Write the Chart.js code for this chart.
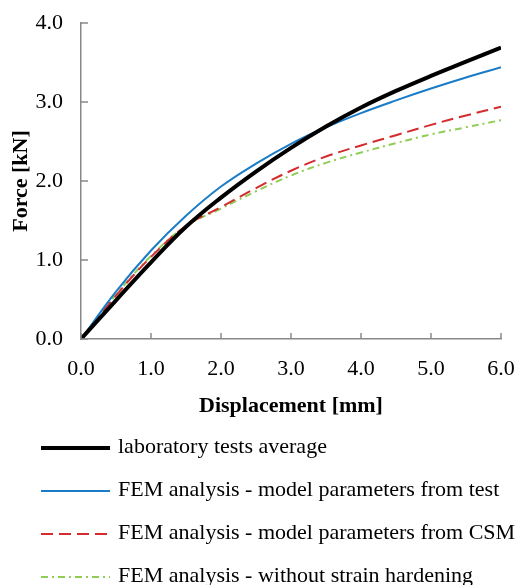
<!DOCTYPE html>
<html>
<head>
<meta charset="utf-8">
<script src="https://cdn.jsdelivr.net/npm/chart.js@4"></script>
<style>
  html, body { margin: 0; padding: 0; background: #fff; }
  #wrap { width: 530px; height: 585px; }
</style>
</head>
<body>
<div id="wrap"><canvas id="ForceChart" width="530" height="585"></canvas></div>
<script>
// displacement [mm] shared by all series
const displacement = [0, 0.5, 1.0, 1.5, 2.0, 2.5, 3.0, 3.5, 4.0, 4.5, 5.0, 5.5, 6.0];

const labAverage  = [0, 0.49, 0.97, 1.42, 1.79, 2.12, 2.42, 2.69, 2.93, 3.14, 3.33, 3.51, 3.69];
const femTest     = [0, 0.60, 1.12, 1.56, 1.93, 2.22, 2.47, 2.68, 2.86, 3.02, 3.17, 3.31, 3.44];
const femCSM      = [0, 0.55, 1.04, 1.43, 1.67, 1.91, 2.13, 2.31, 2.45, 2.58, 2.71, 2.83, 2.94];
const femNoHarden = [0, 0.56, 1.05, 1.43, 1.65, 1.87, 2.07, 2.23, 2.36, 2.48, 2.59, 2.68, 2.77];

const seriesNames = [
  'laboratory tests average',
  'FEM analysis - model parameters from test',
  'FEM analysis - model parameters from CSM',
  'FEM analysis - without strain hardening'
];

const xTicks = [0, 1, 2, 3, 4, 5, 6];
const yTicks = [0, 1, 2, 3, 4];

const FONT = "'Liberation Serif', 'Times New Roman', serif";
const AXIS_GREY = '#898989';

function toPoints(ys) {
  return displacement.map((x, i) => ({ x: x, y: ys[i] }));
}

// ticks on the inner side of the axes, as in the original figure
const innerTicks = {
  id: 'innerTicks',
  afterDatasetsDraw(chart) {
    const c = chart.ctx;
    const xs = chart.scales.x, ys = chart.scales.y;
    const a = chart.chartArea;
    c.save();
    c.strokeStyle = AXIS_GREY;
    c.lineWidth = 1.5;
    c.beginPath();
    xTicks.forEach(v => {
      const px = xs.getPixelForValue(v);
      c.moveTo(px, a.bottom);
      c.lineTo(px, a.bottom - 6);
    });
    yTicks.forEach(v => {
      const py = ys.getPixelForValue(v);
      c.moveTo(a.left, py);
      c.lineTo(a.left + 7, py);
    });
    c.stroke();
    c.restore();
  }
};

// stacked legend, left aligned below the plot
const stackedLegend = {
  id: 'stackedLegend',
  afterDraw(chart) {
    const c = chart.ctx;
    const top = 448, gap = 43;
    c.save();
    c.font = '22px ' + FONT;
    c.textBaseline = 'middle';
    c.fillStyle = '#000';
    chart.data.datasets.forEach((ds, i) => {
      const y = top + i * gap;
      c.beginPath();
      c.strokeStyle = ds.borderColor;
      c.lineWidth = ds.borderWidth;
      c.setLineDash(ds.borderDash || []);
      c.moveTo(41, y);
      c.lineTo(110, y);
      c.stroke();
      c.setLineDash([]);
      c.fillText(ds.label, 118, y - 1);
    });
    c.restore();
  }
};

window.onload = function() {
  const ctx = document.getElementById('ForceChart').getContext('2d');

  const common = { pointRadius: 0, fill: false, tension: 0.4 };

  const data = {
    datasets: [
      Object.assign({ label: seriesNames[0], data: toPoints(labAverage),
        borderColor: '#000000', borderWidth: 4 }, common),
      Object.assign({ label: seriesNames[1], data: toPoints(femTest),
        borderColor: '#1a7cc6', borderWidth: 2 }, common),
      Object.assign({ label: seriesNames[2], data: toPoints(femCSM),
        borderColor: '#d42b2f', borderWidth: 2, borderDash: [12, 6] }, common),
      Object.assign({ label: seriesNames[3], data: toPoints(femNoHarden),
        borderColor: '#8fcd55', borderWidth: 2, borderDash: [7, 4, 2, 4] }, common)
    ]
  };

  const config = {
    type: 'line',
    data: data,
    plugins: [innerTicks, stackedLegend],
    options: {
      responsive: false,
      animation: false,
      layout: { padding: { top: 23, right: 29, bottom: 165, left: 0 } },
      plugins: {
        legend: { display: false },
        tooltip: { enabled: false }
      },
      scales: {
        x: {
          type: 'linear',
          min: 0, max: 6,
          afterBuildTicks: s => { s.ticks = xTicks.map(v => ({ value: v })); },
          afterFit: s => { s.height = 81; s.paddingLeft = 0; s.paddingRight = 0; },
          ticks: {
            color: '#000',
            font: { family: FONT, size: 22 },
            padding: 17,
            maxRotation: 0,
            callback: v => v.toFixed(1)
          },
          grid: { drawOnChartArea: false, drawTicks: false },
          border: { color: AXIS_GREY, width: 1.5 },
          title: {
            display: true,
            text: 'Displacement [mm]',
            color: '#000',
            font: { family: FONT, size: 22, weight: 'bold' },
            padding: { top: 5, bottom: 0 }
          }
        },
        y: {
          min: 0, max: 4,
          afterBuildTicks: s => { s.ticks = yTicks.map(v => ({ value: v })); },
          afterFit: s => { s.width = 81; s.paddingTop = 0; s.paddingBottom = 0; },
          ticks: {
            color: '#000',
            font: { family: FONT, size: 22 },
            padding: 18,
            callback: v => v.toFixed(1)
          },
          grid: { drawOnChartArea: false, drawTicks: false },
          border: { color: AXIS_GREY, width: 1.5 },
          title: {
            display: true,
            text: 'Force [kN]',
            color: '#000',
            font: { family: FONT, size: 22, weight: 'bold' },
            padding: { top: 8, bottom: 0 }
          }
        }
      }
    }
  };

  const myChart = new Chart(ctx, config);
};
</script>
</body>
</html>
